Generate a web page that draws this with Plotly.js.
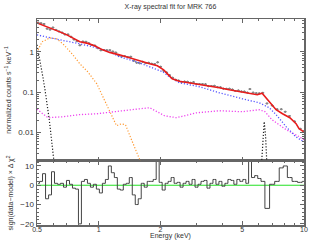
<!DOCTYPE html>
<html><head><meta charset="utf-8">
<script src="https://cdn.plot.ly/plotly-3.0.1.min.js"></script>
<style>html,body{margin:0;padding:0;background:#fff}#c{width:314px;height:240px}</style>
</head><body><div id="c"></div>
<script>
// Spectral data (energy bins, keV) and normalized counts
const binE = [0.506,0.523,0.541,0.560,0.579,0.598,0.619,0.640,0.662,0.684,0.708,0.732,0.757,0.783,0.809,0.837,0.866,0.895,0.926,0.957,0.990,1.024,1.059,1.095,1.132,1.171,1.211,1.252,1.295,1.339,1.385,1.432,1.481,1.531,1.583,1.637,1.693,1.751,1.811,1.873,1.936,2.002,2.071,2.141,2.214,2.290,2.368,2.449,2.532,2.618,2.708,2.800,2.896,2.994,3.096,3.202,3.311,3.424,3.541,3.661,3.786,3.915,4.049,4.187,4.330,4.477,4.630,4.788,4.951,5.120,5.294,5.45,5.65,5.85,6.05,6.3,6.6,7.0,7.4,7.75,8.1,8.5,9.0,9.6,10.0];
const dataFlux = [5.3,5.1,4.9,3.75,3.55,4.0,3.5,3.2,3.0,2.7,2.7,2.38,2.02,1.83,1.45,1.8,1.78,1.63,1.47,1.43,1.23,1.09,1.11,1.1,1.1,1.02,0.96,0.81,0.77,0.78,0.74,0.76,0.6,0.54,0.52,0.57,0.525,0.54,0.51,0.5,0.55,0.43,0.34,0.31,0.265,0.23,0.205,0.195,0.18,0.184,0.183,0.172,0.178,0.16,0.16,0.16,0.158,0.141,0.143,0.145,0.134,0.133,0.123,0.122,0.123,0.117,0.108,0.111,0.105,0.104,0.098,0.12,0.098,0.095,0.094,0.097,0.053,0.047,0.038,0.038,0.033,0.026,0.019,0.0125,0.011];
const resid = [1,2,6,-7,-5,7,1,0.5,1,-1,2.5,0.5,-1.5,-2,-20,2,3,1,-1,0.5,-2,-4,1,3,10,6.5,4,-2,-2.5,0.5,1,4,-5,-10,-7,1,-1,2,2,3,15,1.5,-2.5,1,2,4,1,1.5,-1,1,2,0.5,3,-1,0.5,2,2.5,-1.5,1,3,0.5,2,-0.5,1,3,2.5,0.5,3,2,3,1,15,4,5,3.5,2,-12,0.5,2,9,10,4,2,1.5,2];

// Total model
const modelE = [0.5,0.547,0.591,0.646,0.699,0.756,0.809,0.884,0.954,1.045,1.13,1.26,1.41,1.58,1.77,1.93,2.07,2.16,2.28,2.47,2.76,3.09,3.46,3.87,4.32,4.83,5.40,5.92,6.25,6.46,6.77,7.31,7.86,8.53,9.15,9.46,9.95];
const modelF = [5.2,4.39,3.70,3.12,2.63,2.09,1.77,1.62,1.41,1.12,0.97,0.843,0.711,0.583,0.505,0.451,0.36,0.286,0.216,0.187,0.172,0.158,0.145,0.129,0.115,0.103,0.0945,0.087,0.0945,0.0775,0.055,0.037,0.0295,0.0235,0.0167,0.0126,0.0106];

// Model components
const plE = [0.5,0.578,0.684,0.809,0.978,1.13,1.26,1.53,1.83,2.05,2.21,2.47,3.09,3.87,5.0,6.05,6.77,7.31,8.18,9.1,9.95];
const plF = [2.63,2.22,1.87,1.58,1.26,1.0,0.753,0.566,0.403,0.32,0.241,0.172,0.137,0.097,0.069,0.055,0.0414,0.028,0.0141,0.008,0.006];
const reflE = [0.5,0.529,0.565,0.669,0.809,0.978,1.167,1.58,1.77,1.91,2.09,2.39,2.99,3.87,5.0,6.05,6.46,6.97,8.18,9.46,10.0];
const reflF = [0.038,0.031,0.0235,0.0248,0.028,0.0294,0.033,0.039,0.0414,0.033,0.0263,0.0235,0.031,0.0349,0.033,0.037,0.033,0.021,0.0119,0.008,0.0067];
const softE = [0.506,0.529,0.578,0.625,0.669,0.748,0.809,0.884,0.978,1.045,1.13,1.22,1.29,1.35,1.43,1.53,1.60];
const softF = [1.12,1.77,2.22,2.09,1.58,0.843,0.505,0.32,0.162,0.077,0.033,0.0149,0.0166,0.0157,0.0075,0.0034,0.0019];
const bbE = [0.5,0.517,0.535,0.547,0.559,0.572,0.585,0.598,0.605];
const bbF = [1.49,0.634,0.228,0.115,0.058,0.0235,0.0089,0.0029,0.0019];
const feE = [6.2,6.3,6.4,6.5,6.6];
const feF = [0.0015,0.008,0.0187,0.008,0.0015];

// Axis ticks
const xTicks = [0.5,1,2,5,10];
const xTickText = ['0.5','1','2','5','10'];
const xMinor = [0.6,0.7,0.8,0.9,3,4,6,7,8,9];
const yTicks = [0.01,0.1,1];
const yTickText = ['0.01','0.1','1'];
const yMinor = [0.003,0.004,0.005,0.006,0.007,0.008,0.009,0.02,0.03,0.04,0.05,0.06,0.07,0.08,0.09,0.2,0.3,0.4,0.5,0.6,0.7,0.8,0.9,2,3,4,5,6];
const rTicks = [-20,-10,0,10];
const rMinor = [-18,-16,-14,-12,-8,-6,-4,-2,2,4,6,8,12];

const FONT = 'Liberation Sans, Arial, sans-serif';
const AX = '#666';
const DOT = '1.2px,1.8px';

const traces = [
  {x: binE, y: dataFlux, xaxis:'x2', yaxis:'y2', type:'scatter', mode:'markers',
   marker:{size:2, color:'#888'},
   error_y:{type:'percent', value:5, width:0, thickness:1, color:'#444'},
   error_x:{type:'percent', value:1.6, width:0, thickness:1, color:'#777'}},
  {x: bbE, y: bbF, xaxis:'x2', yaxis:'y2', mode:'lines', line:{color:'#222', width:1.2, dash:DOT}},
  {x: softE, y: softF, xaxis:'x2', yaxis:'y2', mode:'lines', line:{color:'#ff9a33', width:1.2, dash:DOT}},
  {x: reflE, y: reflF, xaxis:'x2', yaxis:'y2', mode:'lines', line:{color:'#ee44ee', width:1.3, dash:DOT}},
  {x: plE, y: plF, xaxis:'x2', yaxis:'y2', mode:'lines', line:{color:'#5555ff', width:1.3, dash:DOT}},
  {x: feE, y: feF, xaxis:'x2', yaxis:'y2', mode:'lines', line:{color:'#222', width:1.2, dash:DOT}},
  {x: modelE, y: modelF, xaxis:'x2', yaxis:'y2', mode:'lines', line:{color:'#e81c1c', width:1.6}},
  {x: [0.5,10], y: [0,0], xaxis:'x', yaxis:'y', mode:'lines', line:{color:'#22e022', width:1}},
  {x: binE, y: resid, xaxis:'x', yaxis:'y', mode:'lines', line:{color:'#444', width:1, shape:'hvh'}}
];

const common = {showline:true, linecolor:AX, linewidth:1.5, mirror:'ticks', ticks:'inside',
  tickcolor:AX, tickwidth:1, ticklen:4, showgrid:false, zeroline:false,
  tickfont:{family:FONT, size:8, color:'#333'}};

const xr = [Math.log10(0.5), 1];
const layout = {
  width:314, height:240, margin:{l:37, r:10, t:19, b:15},
  paper_bgcolor:'#fff', plot_bgcolor:'#fff', showlegend:false,
  title:{text:'X-ray spectral fit for MRK 766', x:0.5, xref:'paper', y:0.972, yref:'container', yanchor:'middle',
    font:{family:FONT, size:7, color:'#333'}},
  xaxis: Object.assign({}, common, {type:'log', range:xr, anchor:'y',
    tickmode:'array', tickvals:xTicks, ticktext:xTickText, ticklabelstandoff:-3,
    tickfont:{family:FONT, size:7, color:'#333'},
    minor:{tickmode:'array', tickvals:xMinor, ticklen:2, tickcolor:AX, ticks:'inside'},
    title:{text:'Energy (keV)', standoff:2, font:{family:FONT, size:7, color:'#333'}}}),
  xaxis2: Object.assign({}, common, {type:'log', range:xr, anchor:'y2', matches:'x',
    tickmode:'array', tickvals:xTicks, showticklabels:false,
    minor:{tickmode:'array', tickvals:xMinor, ticklen:2, tickcolor:AX, ticks:'inside'}}),
  yaxis: Object.assign({}, common, {domain:[0,0.311], range:[-20.6,12.6], anchor:'x',
    tickmode:'array', tickvals:rTicks,
    minor:{tickmode:'array', tickvals:rMinor, ticklen:2, tickcolor:AX, ticks:'inside'},
    title:{text:'sign(data\u2212model) \u00d7 \u0394 \u03c7<sup>2</sup>', standoff:6, font:{family:FONT, size:7, color:'#333'}}}),
  yaxis2: Object.assign({}, common, {domain:[0.311,1], type:'log', range:[Math.log10(0.002), Math.log10(6.5)], anchor:'x2',
    tickmode:'array', tickvals:yTicks, ticktext:yTickText,
    minor:{tickmode:'array', tickvals:yMinor, ticklen:2, tickcolor:AX, ticks:'inside'},
    title:{text:'normalized counts s<sup>\u22121</sup> keV<sup>\u22121</sup>', standoff:6, font:{family:FONT, size:7, color:'#333'}}})
};

Plotly.newPlot('c', traces, layout, {staticPlot:true, displayModeBar:false});
</script></body></html>
